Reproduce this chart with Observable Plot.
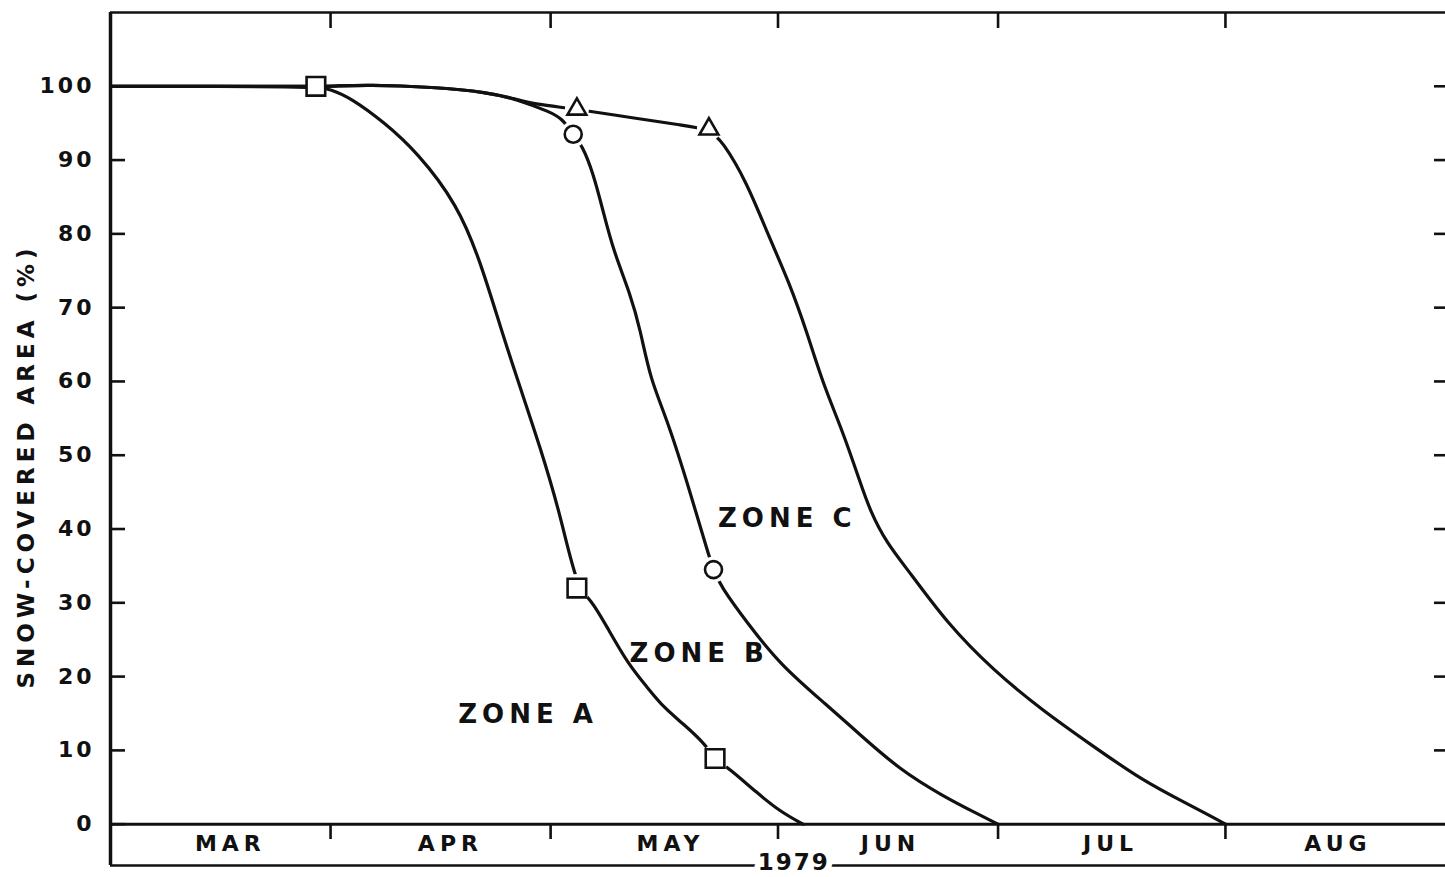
<!DOCTYPE html>
<html>
<head>
<meta charset="utf-8">
<script src="https://cdn.jsdelivr.net/npm/d3@7"></script>
<script src="https://cdn.jsdelivr.net/npm/@observablehq/plot@0.6"></script>
<style>
  html, body { margin: 0; padding: 0; background: white; }
  #chart svg { display: block; }
  g[aria-label="y-axis tick label"] text { letter-spacing: 3px; }
  text[aria-label="zone-label"] { letter-spacing: 5px; }
  text[aria-label="month-label"] { letter-spacing: 5px; }
  text[aria-label="year-label"] { letter-spacing: 2px; }
  text[aria-label="y-title"] { letter-spacing: 5px; }
</style>
</head>
<body>
<div id="chart"></div>
<script>
// ---- Data (date, snow-covered area %) ----
const zoneA = [
  ["1979-03-02", 100], ["1979-03-30", 100], ["1979-04-01", 99.6], ["1979-04-03T19:00Z", 98.4],
  ["1979-04-08T05:00Z", 95.2], ["1979-04-12T19:00Z", 91.1], ["1979-04-18T07:00Z", 84.0],
  ["1979-04-21T10:00Z", 76.3], ["1979-04-24T05:00Z", 67.2], ["1979-04-26T12:00Z", 60.2],
  ["1979-04-29T14:00Z", 51.1], ["1979-05-02T07:00Z", 42.1], ["1979-05-04T14:00Z", 32.0],
  ["1979-05-06T10:00Z", 30.6], ["1979-05-08T17:00Z", 26.7], ["1979-05-11T12:00Z", 21.8],
  ["1979-05-14T05:00Z", 18.5], ["1979-05-16T10:00Z", 15.8], ["1979-05-19T02:00Z", 13.6],
  ["1979-05-21T22:00Z", 11.0], ["1979-05-23T10:00Z", 8.9], ["1979-05-25T12:00Z", 7.4],
  ["1979-05-29T02:00Z", 4.3], ["1979-06-01T07:00Z", 1.7], ["1979-06-04T10:00Z", 0]
];
const zoneB = [
  ["1979-03-02", 100], ["1979-03-30", 100], ["1979-04-01", 100], ["1979-04-06", 100.2],
  ["1979-04-15", 99.9], ["1979-04-22T10:00Z", 99.2], ["1979-04-26T12:00Z", 98.2],
  ["1979-05-01", 96.5], ["1979-05-02T14:00Z", 95.6], ["1979-05-04T02:00Z", 93.5],
  ["1979-05-05T07:00Z", 92.0], ["1979-05-06T19:00Z", 88.3], ["1979-05-08T05:00Z", 82.9],
  ["1979-05-09T12:00Z", 77.9], ["1979-05-11T22:00Z", 71.7], ["1979-05-13T05:00Z", 67.1],
  ["1979-05-14T14:00Z", 60.3], ["1979-05-16T22:00Z", 54.8], ["1979-05-20", 45.1],
  ["1979-05-22T12:00Z", 36.6], ["1979-05-23T05:00Z", 34.5], ["1979-05-24T02:00Z", 32.4],
  ["1979-05-27T19:00Z", 27.3], ["1979-06-01T07:00Z", 21.6], ["1979-06-07T17:00Z", 16.1],
  ["1979-06-12T05:00Z", 12.1], ["1979-06-17T14:00Z", 7.4], ["1979-06-23T12:00Z", 3.8],
  ["1979-06-28", 1.5], ["1979-07-01", 0]
];
const zoneC = [
  ["1979-03-02", 100], ["1979-03-30", 100], ["1979-04-01", 100], ["1979-04-06", 100.2],
  ["1979-04-15", 99.9], ["1979-04-22T10:00Z", 99.2], ["1979-04-26T12:00Z", 98.2],
  ["1979-04-28T17:00Z", 97.6], ["1979-05-04T14:00Z", 96.9], ["1979-05-12T07:00Z", 95.7],
  ["1979-05-19T02:00Z", 94.7], ["1979-05-22T14:00Z", 94.2], ["1979-05-24T10:00Z", 92.6],
  ["1979-05-27T19:00Z", 86.9], ["1979-05-30T12:00Z", 80.2], ["1979-06-02T14:00Z", 73.3],
  ["1979-06-05", 66.5], ["1979-06-07T02:00Z", 59.8], ["1979-06-09T22:00Z", 53.0],
  ["1979-06-12T05:00Z", 46.3], ["1979-06-13T12:00Z", 42.6], ["1979-06-15T19:00Z", 38.1],
  ["1979-06-19", 34.1], ["1979-06-24", 27.3], ["1979-06-30T07:00Z", 20.9],
  ["1979-07-07T02:00Z", 15.4], ["1979-07-13T22:00Z", 10.6], ["1979-07-20T17:00Z", 5.9],
  ["1979-07-26T17:00Z", 2.8], ["1979-07-30T05:00Z", 1.0], ["1979-08-01", 0]
];
// observation markers
const squarePoints = [["1979-03-30", 100], ["1979-05-04T14:00Z", 32.0], ["1979-05-23T10:00Z", 8.9]];
const circlePoints = [["1979-05-04T02:00Z", 93.5], ["1979-05-23T05:00Z", 34.5]];
const trianglePoints = [["1979-05-04T14:00Z", 96.9], ["1979-05-22T14:00Z", 94.2]];

// labels
const zoneNames = ["ZONE A", "ZONE B", "ZONE C"];
const zoneLabelDates = ["1979-04-27T14:00Z", "1979-05-20T22:00Z", "1979-06-01T22:00Z"];
const zoneLabelValues = [14.9, 23.1, 41.4];
const monthNames = ["MAR", "APR", "MAY", "JUN", "JUL", "AUG"];
const monthLabelDates = ["1979-03-18", "1979-04-17", "1979-05-17", "1979-06-16", "1979-07-16", "1979-08-16"];
const monthStarts = ["1979-04-01", "1979-05-01", "1979-06-01", "1979-07-01", "1979-08-01"];
const yTicks = [0, 10, 20, 30, 40, 50, 60, 70, 80, 90, 100];
const yearLabel = "1979";
const yearLabelDate = "1979-06-03";
const yTitle = "SNOW-COVERED AREA (%)";
const xDomain = ["1979-03-02", "1979-08-31"];
const yDomain = [-5.6, 110];

// ---- build ----
const P = s => new Date(s);
const rows = arr => arr.map(([d, v]) => ({date: P(d), value: v}));
const A = rows(zoneA), B = rows(zoneB), C = rows(zoneC);
const SQ = rows(squarePoints), CI = rows(circlePoints), TR = rows(trianglePoints);
const zoneLabelRows = zoneNames.map((t, i) => ({text: t, date: P(zoneLabelDates[i]), value: zoneLabelValues[i]}));
const monthRows = monthNames.map((t, i) => ({text: t, date: P(monthLabelDates[i])}));
const starts = monthStarts.map(P);
const ink = "#111";
const tag = name => () => name;

const lineOpts = {x: "date", y: "value", curve: "basis", stroke: ink, strokeWidth: 3.2, strokeLinejoin: "round", strokeLinecap: "round"};
const markerOpts = {x: "date", y: "value", fill: "white", stroke: ink, strokeWidth: 2.6};

const chart = Plot.plot({
  width: 1445,
  height: 877,
  marginTop: 12,
  marginRight: 0,
  marginBottom: 12,
  marginLeft: 110,
  x: {type: "utc", domain: xDomain.map(P)},
  y: {domain: yDomain},
  style: {fontFamily: "DejaVu Sans", fontWeight: "bold", background: "white", color: ink},
  marks: [
    // frame pieces
    Plot.ruleX([P(xDomain[0])], {stroke: ink, strokeWidth: 3.5}),
    Plot.ruleY([yDomain[1]], {stroke: ink, strokeWidth: 2.6}),
    Plot.ruleY([yDomain[0]], {stroke: ink, strokeWidth: 2.6}),
    Plot.ruleY([0], {stroke: ink, strokeWidth: 3}),
    // inward ticks
    Plot.axisY(yTicks, {anchor: "left", tickSize: 15, dx: 15, tickFormat: () => "", label: null, stroke: ink, strokeWidth: 2.6}),
    Plot.axisY(yTicks.slice(1), {anchor: "right", tickSize: 12, dx: -12, tickFormat: () => "", label: null, stroke: ink, strokeWidth: 2.6}),
    Plot.axisX(starts, {anchor: "top", tickSize: 15, dy: 15, tickFormat: () => "", label: null, stroke: ink, strokeWidth: 2.6}),
    Plot.axisX(starts, {anchor: "bottom", tickSize: 15, dy: -41, tickFormat: () => "", label: null, stroke: ink, strokeWidth: 2.6}),
    // y tick labels
    Plot.axisY(yTicks, {anchor: "left", tickSize: 0, tickPadding: 16, fontSize: 22, label: null, fill: ink}),
    // curves
    Plot.line(A, lineOpts),
    Plot.line(B, lineOpts),
    Plot.line(C, lineOpts),
    // white gaps around markers
    Plot.dot(SQ.slice(1), {x: "date", y: "value", r: 14, fill: "white", stroke: null}),
    Plot.dot(CI, {x: "date", y: "value", r: 13, fill: "white", stroke: null}),
    Plot.dot(TR, {x: "date", y: "value", r: 12, fill: "white", stroke: null}),
    // markers
    Plot.dot(SQ, {...markerOpts, symbol: d3.symbolSquare, r: 10.5}),
    Plot.dot(CI, {...markerOpts, symbol: d3.symbolCircle, r: 8.5}),
    Plot.dot(TR, {...markerOpts, symbol: d3.symbolTriangle, r: 7}),
    // zone labels
    Plot.text(zoneLabelRows, {x: "date", y: "value", text: "text", fontSize: 26, dx: 2.5, fill: ink, ariaLabel: tag("zone-label")}),
    // month labels
    Plot.text(monthRows, {x: "date", text: "text", frameAnchor: "bottom", lineAnchor: "middle", dy: -22, dx: 2.5, fontSize: 22, fill: ink, ariaLabel: tag("month-label")}),
    // year label over bottom rule
    Plot.text([yearLabel], {x: P(yearLabelDate), text: d => d, frameAnchor: "bottom", lineAnchor: "middle", dy: -3, dx: 1, fontSize: 23, fill: ink, stroke: "white", strokeWidth: 12, strokeLinejoin: "round", paintOrder: "stroke", ariaLabel: tag("year-label")}),
    // y title
    Plot.text([yTitle], {text: d => d, frameAnchor: "left", textAnchor: "middle", lineAnchor: "middle", rotate: -90, dx: -84, dy: 27, fontSize: 23, fill: ink, ariaLabel: tag("y-title")})
  ]
});
document.getElementById("chart").appendChild(chart);
</script>
</body>
</html>
